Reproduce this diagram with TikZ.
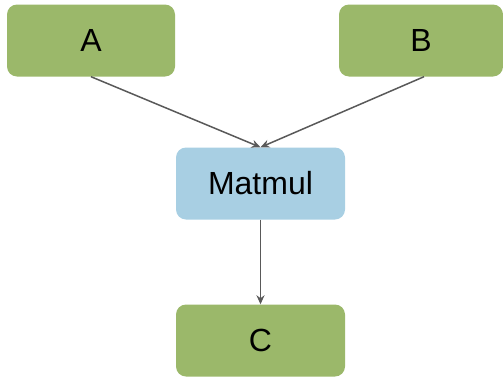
\documentclass[tikz,border=0pt]{standalone}
\usepackage{fontspec}
\setmainfont{Liberation Sans}
\usepackage{xcolor}
\usetikzlibrary{arrows.meta}

\definecolor{opgreen}{HTML}{9BB86A}
\definecolor{opblue}{HTML}{A8CFE3}
\definecolor{edgegray}{HTML}{595959}

\begin{document}
\begin{tikzpicture}[x=1pt,y=-1pt,
    tensor/.style={fill=opgreen, rounded corners=10pt, minimum width=168pt, minimum height=72pt, font=\fontsize{32}{38}\selectfont},
    op/.style={fill=opblue, rounded corners=10pt, minimum width=169pt, minimum height=72pt, font=\fontsize{32}{38}\selectfont},
    edge/.style={draw=edgegray, line width=1.5pt, -{Stealth[length=9pt,width=8pt]}}]
                    \useasboundingbox (0,0) rectangle (503,378);

                    % Inputs
                    \node[tensor] (a) at (91,40.5) {A};
                    \node[tensor, minimum width=164pt] (b) at (421,40.5) {B};

                    % Operation
                    \node[op] (matmul) at (260.5,183.5) {Matmul};

                    % Output
                    \node[tensor, minimum width=169pt] (c) at (260.5,340.5) {C};

                    % Edges
                    \draw[edge] (a.south) -- (matmul.north);
                    \draw[edge] ([xshift=3pt]b.south) -- (matmul.north);
                    \draw[edge] (matmul.south) -- (c.north);
                \end{tikzpicture}
\end{document}
